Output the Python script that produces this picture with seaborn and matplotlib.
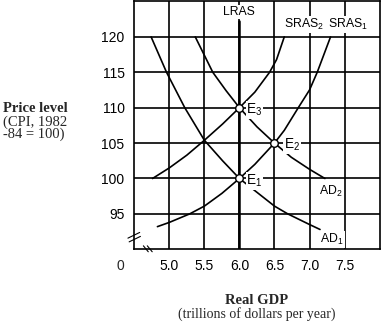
import matplotlib
matplotlib.use("Agg")
import matplotlib.pyplot as plt
import seaborn as sns
import pandas as pd

# ---- data ----
AD1_x = [4.74, 4.96, 5.22, 5.50, 5.76, 6.00, 6.50, 6.69, 7.00, 7.15]
AD1_y = [120.0, 115.0, 110.0, 105.4, 102.5, 100.0, 96.1, 95.0, 93.5, 92.8]

AD2_x = [5.37, 5.50, 5.62, 5.81, 6.00, 6.25, 6.50, 6.74, 7.00, 7.22]
AD2_y = [120.0, 117.4, 115.0, 112.4, 110.0, 107.3, 105.0, 103.0, 101.3, 100.0]

SRAS1_x = [4.83, 5.00, 5.29, 5.50, 5.75, 6.00, 6.22, 6.50, 6.64, 6.84, 7.00, 7.11, 7.30]
SRAS1_y = [93.2, 93.8, 95.0, 96.1, 97.9, 100.0, 102.0, 105.0, 106.8, 110.0, 112.5, 115.0, 120.0]

SRAS2_x = [4.76, 5.00, 5.25, 5.50, 5.76, 6.00, 6.22, 6.43, 6.53, 6.64]
SRAS2_y = [100.0, 101.5, 103.3, 105.4, 107.7, 110.0, 112.2, 115.0, 116.8, 120.0]

LRAS_x = [6.0, 6.0]
LRAS_y = [90.0, 122.3]

eq_x = [6.0, 6.5, 6.0]
eq_y = [100.0, 105.0, 110.0]
eq_labels = ["E$\\mathregular{_1}$", "E$\\mathregular{_2}$", "E$\\mathregular{_3}$"]

x_ticks = [5.0, 5.5, 6.0, 6.5, 7.0, 7.5]
x_ticklabels = ["5.0", "5.5", "6.0", "6.5", "7.0", "7.5"]
y_ticks = [95, 100, 105, 110, 115, 120]
y_ticklabels = ["95", "100", "105", "110", "115", "120"]

# ---- styling ----
sns.set_theme(style="white")
plt.rcParams["font.family"] = ["Liberation Sans", "DejaVu Sans"]
plt.rcParams["mathtext.fontset"] = "custom"
plt.rcParams["mathtext.rm"] = "Liberation Sans"

fig = plt.figure(figsize=(3.81, 3.26), dpi=100)
ax = fig.add_axes([0.3525, 0.2353, 0.6438, 0.7601])

ax.set_xlim(4.5, 8.0)
ax.set_ylim(90, 125)
ax.set_xticks(x_ticks)
ax.set_xticklabels(x_ticklabels)
ax.set_yticks(y_ticks)
ax.set_yticklabels(y_ticklabels)
ax.tick_params(length=0, labelsize=10, colors="black", pad=7)
ax.grid(True, color="black", linewidth=1.2, zorder=0)
ax.set_axisbelow(True)
for s in ax.spines.values():
    s.set_visible(True)
    s.set_color("black")
    s.set_linewidth(1.2)

curve_kw = dict(color="black", linewidth=1.2, sort=False, estimator=None, ax=ax, legend=False)
for xs, ys in [(AD1_x, AD1_y), (AD2_x, AD2_y), (SRAS1_x, SRAS1_y), (SRAS2_x, SRAS2_y)]:
    df = pd.DataFrame({"x": xs, "y": ys})
    sns.lineplot(data=df, x="x", y="y", zorder=3, **curve_kw)

lr = pd.DataFrame({"x": LRAS_x, "y": LRAS_y})
sns.lineplot(data=lr, x="x", y="y", color="black", linewidth=1.8, sort=False,
             estimator=None, ax=ax, legend=False, zorder=3)

eq = pd.DataFrame({"x": eq_x, "y": eq_y})
sns.scatterplot(data=eq, x="x", y="y", s=30, facecolor="white", edgecolor="black",
                linewidth=1.0, ax=ax, zorder=5, legend=False)

ax.set_xlabel("")
ax.set_ylabel("")

box = dict(facecolor="white", edgecolor="none", pad=0.6)
lab_kw = dict(fontsize=8.8, color="black", zorder=6, bbox=box)
ax.text(6.0, 123.5, "LRAS", ha="center", va="center", **lab_kw)
ax.text(6.63, 121.7, "SRAS$\\mathregular{_2}$", ha="left", va="center", **lab_kw)
ax.text(7.26, 121.7, "SRAS$\\mathregular{_1}$", ha="left", va="center", **lab_kw)
ax.text(7.30, 98.1, "AD$\\mathregular{_2}$", ha="center", va="center", **lab_kw)
ax.text(7.32, 91.4, "AD$\\mathregular{_1}$", ha="center", va="center", **lab_kw)
eq_kw = dict(fontsize=9.8, color="black", zorder=6, bbox=box)
eq_offsets = [6.10, 6.64, 6.10]
for lx, y, t in zip(eq_offsets, eq_y, eq_labels):
    ax.text(lx, y - 0.3, t, ha="left", va="center", **eq_kw)

# origin label
ax.text(4.3, 87.6, "0", ha="center", va="center", fontsize=10, clip_on=False)

# axis break marks
bk = dict(color="black", linewidth=0.8, transform=ax.transAxes, clip_on=False, zorder=7)
ax.plot([-0.026, 0.022], [0.045, 0.068], **bk)
ax.plot([-0.021, 0.025], [0.030, 0.052], **bk)
ax.plot([0.037, 0.057], [0.014, -0.010], **bk)
ax.plot([0.053, 0.073], [0.014, -0.010], **bk)

# axis titles
fig.text(3 / 381, 1 - 108 / 326, "Price level", ha="left", va="center",
         fontsize=10.5, fontweight="bold", family="Liberation Serif")
fig.text(3 / 381, 1 - 122 / 326, "(CPI, 1982", ha="left", va="center",
         fontsize=10.5, family="Liberation Serif")
fig.text(3 / 381, 1 - 134 / 326, "-84 = 100)", ha="left", va="center",
         fontsize=10.5, family="Liberation Serif")
fig.text(257 / 381, 1 - 300 / 326, "Real GDP", ha="center", va="center",
         fontsize=10.5, fontweight="bold", family="Liberation Serif")
fig.text(257 / 381, 1 - 314 / 326, "(trillions of dollars per year)", ha="center",
         va="center", fontsize=10, family="Liberation Serif")

fig.savefig("out.png", dpi=100)
